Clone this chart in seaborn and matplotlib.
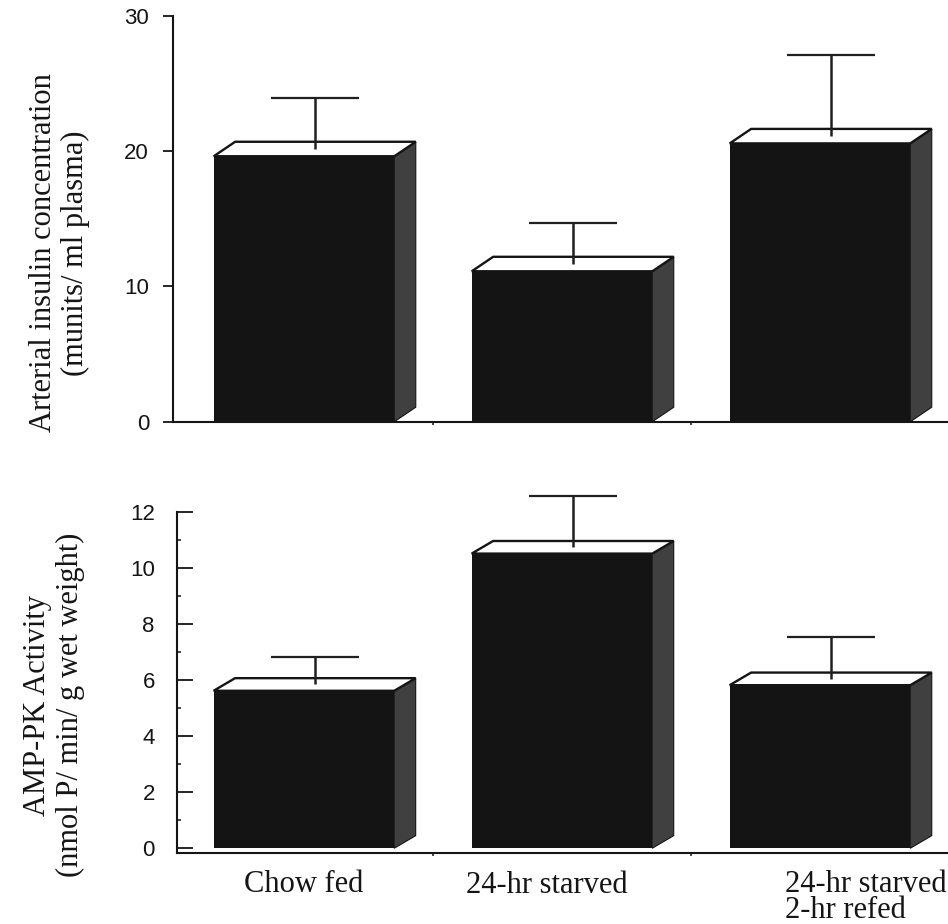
import numpy as np
import pandas as pd
import matplotlib.pyplot as plt
from matplotlib.patches import Polygon
from matplotlib.ticker import MultipleLocator
import seaborn as sns

# valeurs (moyenne au centre de la face du dessus)
groups = ['Chow fed', '24-hr starved', '24-hr starved\n2-hr refed']
insulin = [20.15, 11.65, 21.1]
insulin_err = [3.8, 3.05, 6.0]
ampk = [5.85, 10.75, 6.05]
ampk_err = [0.98, 1.82, 1.48]

sns.set_style('ticks')
plt.rcParams['font.family'] = ['Liberation Sans', 'DejaVu Sans']
serif = ['Liberation Serif', 'DejaVu Serif']

front_col = '#141414'
side_col = '#404040'
dx = 0.083


def bars_3d(ax, means, errs, dy):
    df = pd.DataFrame({'group': groups, 'front': [m - dy / 2 for m in means]})
    sns.barplot(data=df, x='group', y='front', color=front_col, saturation=1,
                width=0.7, errorbar=None, linewidth=0, ax=ax, zorder=2)
    bars = list(ax.patches)
    for bar, m, e in zip(bars, means, errs):
        x0 = bar.get_x()
        x1 = x0 + bar.get_width()
        h = bar.get_height()
        side = Polygon([(x1, 0), (x1 + dx, dy), (x1 + dx, h + dy), (x1, h)],
                       closed=True, fc=side_col, ec=front_col, lw=0.8, zorder=3)
        top = Polygon([(x0, h), (x1, h), (x1 + dx, h + dy), (x0 + dx, h + dy)],
                      closed=True, fc='white', ec=front_col, lw=1.7, zorder=3)
        ax.add_patch(side)
        ax.add_patch(top)
        xc = x0 + bar.get_width() / 2 + dx / 2
        eb = ax.errorbar(xc, m, yerr=[[0], [e]], fmt='none', ecolor='#202020',
                         elinewidth=1.8, capsize=31.7, capthick=1.6, zorder=4)
        # pas de trait bas : seulement la moitié haute de l'erreur
        eb[1][0].set_visible(False)
        for art in list(eb[1]) + list(eb[2]):
            art.set_clip_on(False)
    ax.set_xlabel('')
    ax.set_ylabel('')
    ax.set_xticks([0.5, 1.5])
    ax.set_xticklabels([])
    ax.tick_params(axis='x', direction='out', length=2.5, width=1.2)
    for s in ['top', 'right']:
        ax.spines[s].set_visible(False)
    for s in ['left', 'bottom']:
        ax.spines[s].set_linewidth(1.5)
        ax.spines[s].set_color('#151515')


fig = plt.figure(figsize=(9.48, 9.24), dpi=100)
ax1 = fig.add_axes([173 / 948, 1 - 421.7 / 924, (948 - 173) / 948, (421.7 - 15.7) / 924])
ax2 = fig.add_axes([177 / 948, 1 - 853 / 924, (948 - 177) / 948, (853 - 512.3) / 924])

# panneau du haut : insuline
bars_3d(ax1, insulin, insulin_err, 1.07)
ax1.set_xlim(-0.508, 2.496)
ax1.set_ylim(0, 30)
ax1.set_yticks([0, 10, 20, 30])
ax1.tick_params(axis='y', direction='out', length=7.2, width=1.3, pad=10,
                labelsize=16, colors='#151515')

# panneau du bas : AMP-PK
bars_3d(ax2, ampk, ampk_err, 0.45)
ax2.set_xlim(-0.492, 2.496)
ax2.set_ylim(-0.17, 12)
ax2.set_yticks(range(0, 13, 2))
ax2.yaxis.set_minor_locator(MultipleLocator(1))
ax2.tick_params(axis='y', which='major', direction='in', length=11.5, width=1.3,
                pad=16, labelsize=16, colors='#151515')
ax2.tick_params(axis='y', which='minor', direction='in', length=3, width=1.2)

fig.text(59.5 / 948, 1 - 253 / 924,
         'Arterial insulin concentration\n(munits/ ml plasma)',
         rotation=90, ha='center', va='center', fontsize=22, family=serif,
         linespacing=1.15, color='#151515')
fig.text(54 / 948, 1 - 705 / 924,
         'AMP-PK Activity\n(nmol P/ min/ g wet weight)',
         rotation=90, ha='center', va='center', fontsize=22, family=serif,
         linespacing=1.15, color='#151515')

# étiquettes des groupes sous le panneau du bas
h2 = 853 - 512.3
trans = ax2.get_xaxis_transform()
ax2.text(0, (853 - 892) / h2, groups[0], transform=trans, ha='center',
         va='baseline', fontsize=22, family=serif, color='#151515')
ax2.text(0.94, (853 - 893) / h2, groups[1], transform=trans, ha='center',
         va='baseline', fontsize=22, family=serif, color='#151515')
ax2.text(1.865, (853 - 918) / h2, groups[2], transform=trans, ha='left',
         va='baseline', fontsize=22, family=serif, linespacing=0.85,
         color='#151515')

fig.savefig('out.png', dpi=100, facecolor='white')
